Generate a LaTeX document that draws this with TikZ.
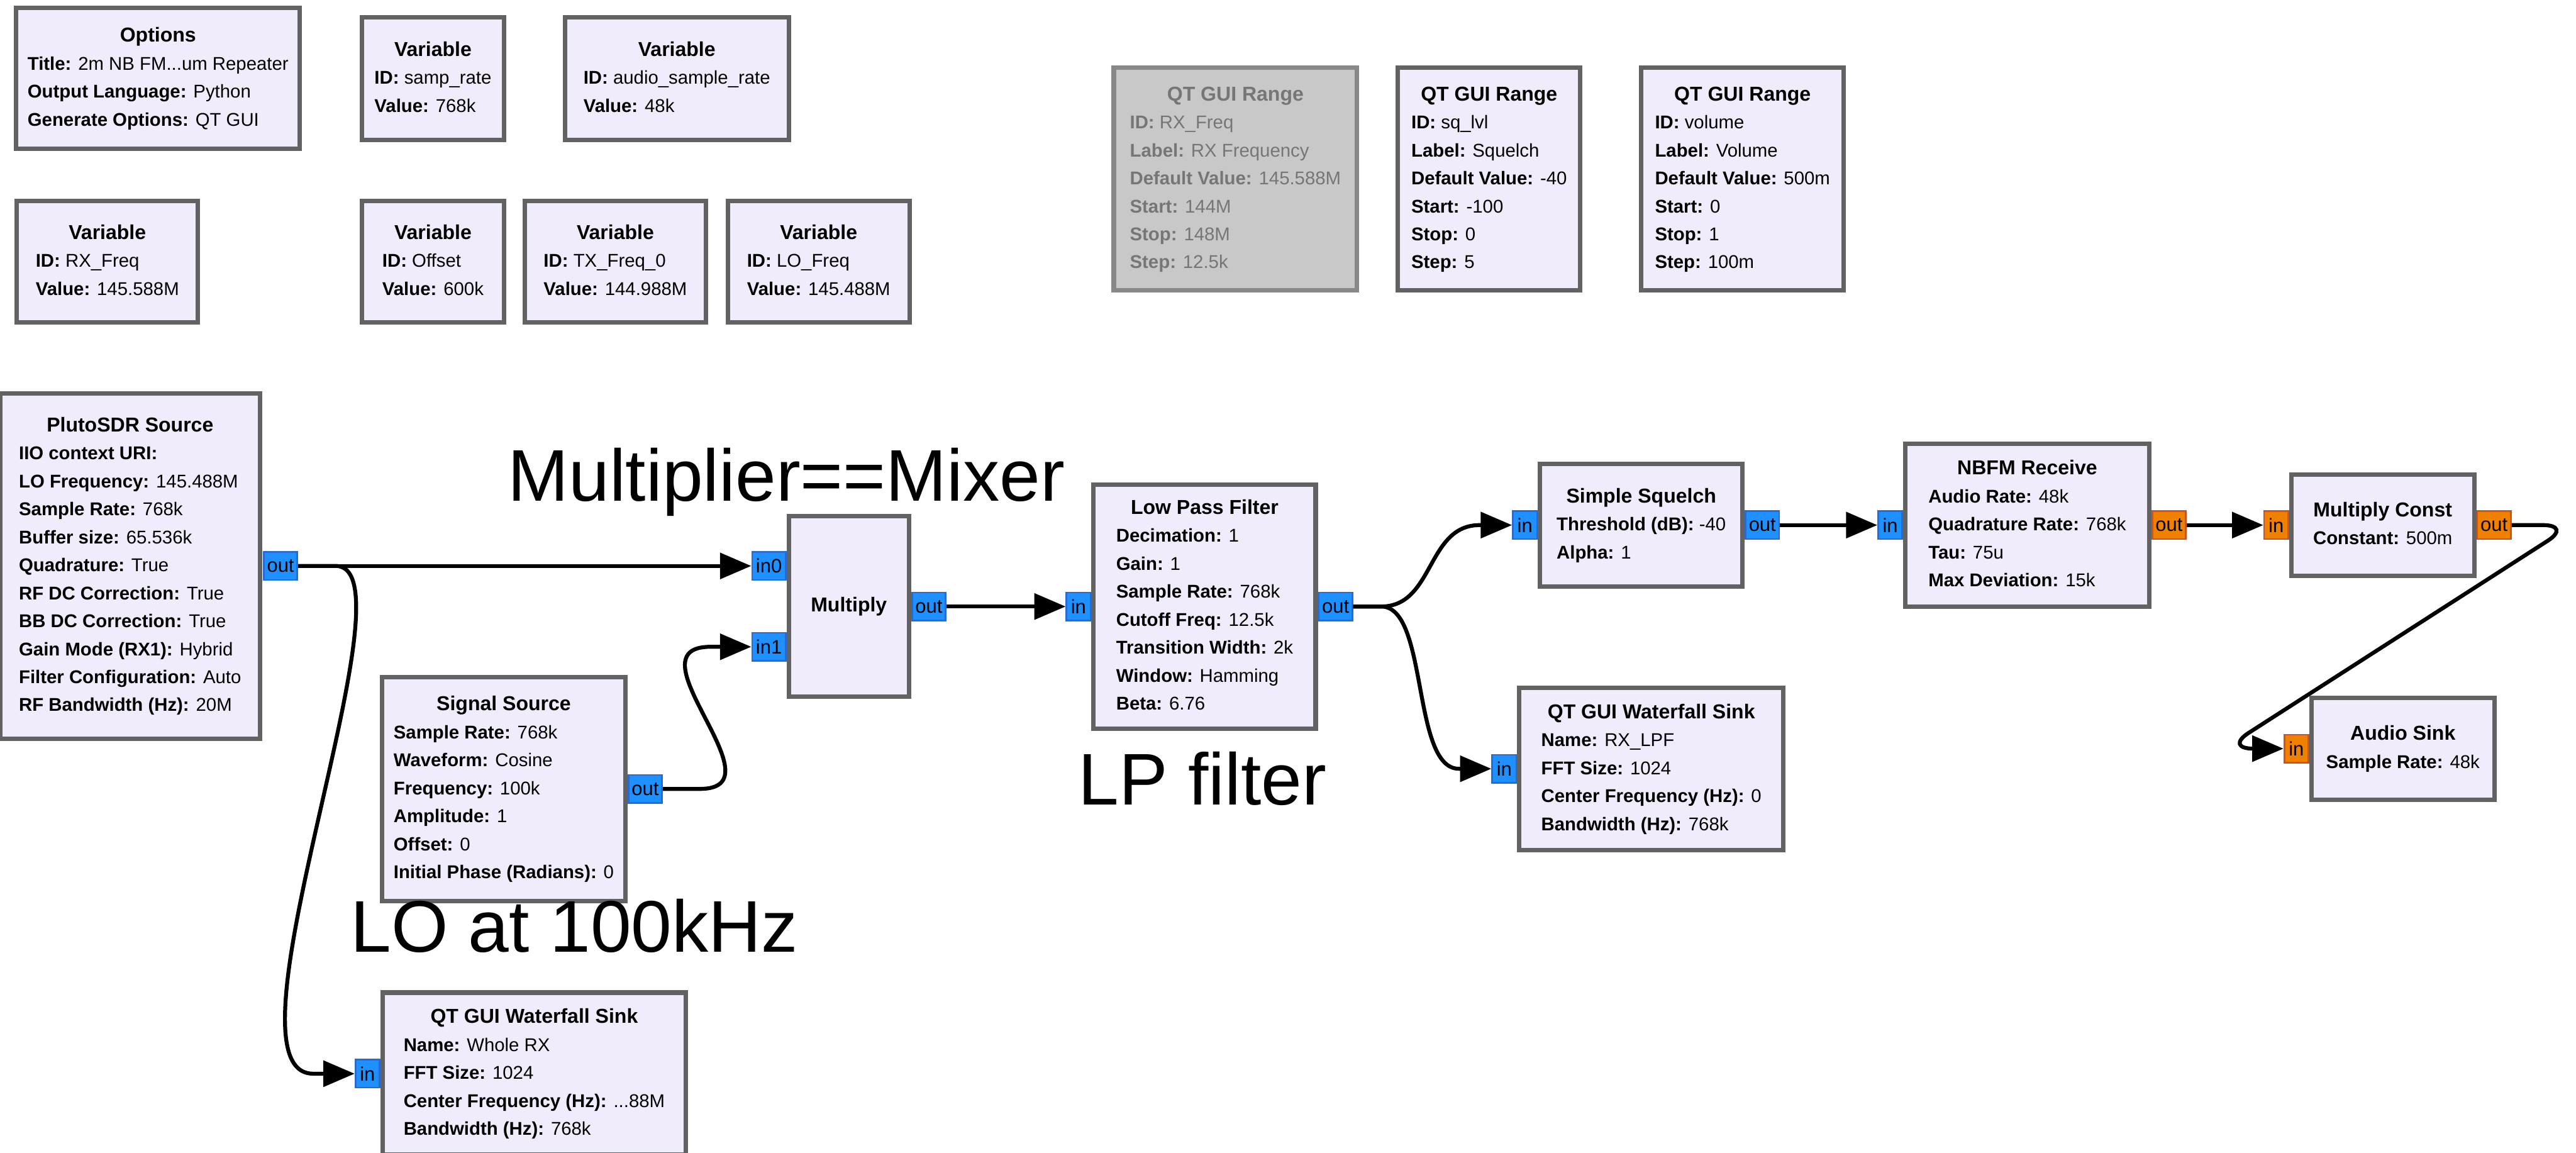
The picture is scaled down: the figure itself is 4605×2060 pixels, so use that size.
\documentclass[tikz,border=0pt]{standalone}
\usepackage{fontspec}
\setmainfont{Liberation Sans}
\usetikzlibrary{arrows.meta,calc}
\definecolor{blkfill}{RGB}{241,236,252}
\definecolor{blkdraw}{RGB}{98,98,98}
\definecolor{disfill}{RGB}{200,200,200}
\definecolor{disdraw}{RGB}{136,136,136}
\definecolor{distext}{RGB}{118,118,118}
\definecolor{cportfill}{RGB}{30,144,255}
\definecolor{cportdraw}{RGB}{38,108,210}
\definecolor{fportfill}{RGB}{240,128,0}
\definecolor{fportdraw}{RGB}{200,85,35}
\newcommand\ttl[1]{\multicolumn{1}{@{}c@{}}{\fontsize{9}{12.5}\selectfont\bfseries #1}}
\newcommand\lb[1]{\textbf{#1}}
\tikzset{
  blkbox/.style={draw=blkdraw, fill=blkfill, line width=2pt, rectangle, inner sep=0pt},
  blktxt/.style={inner sep=0pt, font=\fontsize{8.25}{12.5}\selectfont, text=black},
  disbox/.style={draw=disdraw, fill=disfill},
  distxt/.style={text=distext},
  port/.style={rectangle, inner sep=0pt, line width=0.75pt, minimum height=12.5pt, font=\fontsize{8.7}{10}\selectfont},
  cport/.style={port, draw=cportdraw, fill=cportfill},
  fport/.style={port, draw=fportdraw, fill=fportfill},
  wout/.style={minimum width=15pt},
  win/.style={minimum width=10.75pt},
  conn/.style={line width=1.75pt, draw=black},
  arr/.style={conn, -{Triangle[length=14pt,width=11.5pt]}},
  note/.style={font=\fontsize{32.7}{38}\selectfont, inner sep=0pt, anchor=base west}
}
% name x1 y1 x2 y2 boxstyle textstyle content
\newcommand\blk[8]{%
  \node[blkbox,#6,minimum width={(#4-#2-8)*0.25pt},minimum height={(#5-#3-8)*0.25pt}] (#1) at ({(#2+#4)/2},{(#3+#5)/2}) {};
  \node[blktxt,#7] (#1-t) at (#1.center) {\begin{tabular}{@{}l@{}}#8\end{tabular}};
}
\begin{document}
\begin{tikzpicture}[x=0.25pt,y=-0.25pt]
\useasboundingbox (0,0) rectangle (4605,2060);
\fill[white] (0,0) rectangle (4605,2060);
\clip (0,0) rectangle (4605,2060);

% variables / options
\blk{opt}{25}{10}{540}{270}{}{}{\ttl{Options}\\ \lb{Title:} 2m NB FM...um Repeater\\ \lb{Output Language:} Python\\ \lb{Generate Options:} QT GUI}
\blk{v1}{643}{27}{905}{254}{}{}{\ttl{Variable}\\ \lb{ID:} samp\_rate\\ \lb{Value:} 768k}
\blk{v2}{1006}{27}{1414}{254}{}{}{\ttl{Variable}\\ \lb{ID:} audio\_sample\_rate\\ \lb{Value:} 48k}
\blk{v3}{26}{355}{358}{580}{}{}{\ttl{Variable}\\ \lb{ID:} RX\_Freq\\ \lb{Value:} 145.588M}
\blk{v4}{643}{355}{905}{580}{}{}{\ttl{Variable}\\ \lb{ID:} Offset\\ \lb{Value:} 600k}
\blk{v5}{934}{355}{1266}{580}{}{}{\ttl{Variable}\\ \lb{ID:} TX\_Freq\_0\\ \lb{Value:} 144.988M}
\blk{v6}{1297}{355}{1630}{580}{}{}{\ttl{Variable}\\ \lb{ID:} LO\_Freq\\ \lb{Value:} 145.488M}

% QT GUI ranges
\blk{r1}{1987}{117}{2430}{523}{disbox}{distxt}{\ttl{QT GUI Range}\\ \lb{ID:} RX\_Freq\\ \lb{Label:} RX Frequency\\ \lb{Default Value:} 145.588M\\ \lb{Start:} 144M\\ \lb{Stop:} 148M\\ \lb{Step:} 12.5k}
\blk{r2}{2495}{117}{2829}{523}{}{}{\ttl{QT GUI Range}\\ \lb{ID:} sq\_lvl\\ \lb{Label:} Squelch\\ \lb{Default Value:} -40\\ \lb{Start:} -100\\ \lb{Stop:} 0\\ \lb{Step:} 5}
\blk{r3}{2930}{117}{3300}{523}{}{}{\ttl{QT GUI Range}\\ \lb{ID:} volume\\ \lb{Label:} Volume\\ \lb{Default Value:} 500m\\ \lb{Start:} 0\\ \lb{Stop:} 1\\ \lb{Step:} 100m}

% signal chain blocks
\blk{pluto}{-4}{699}{469}{1324}{}{}{\ttl{PlutoSDR Source}\\ \lb{IIO context URI:}\\ \lb{LO Frequency:} 145.488M\\ \lb{Sample Rate:} 768k\\ \lb{Buffer size:} 65.536k\\ \lb{Quadrature:} True\\ \lb{RF DC Correction:} True\\ \lb{BB DC Correction:} True\\ \lb{Gain Mode (RX1):} Hybrid\\ \lb{Filter Configuration:} Auto\\ \lb{RF Bandwidth (Hz):} 20M}
\blk{mul}{1406}{918}{1629}{1249}{}{}{\ttl{Multiply}}
\blk{sig}{679}{1206}{1122}{1614}{}{}{\ttl{Signal Source}\\ \lb{Sample Rate:} 768k\\ \lb{Waveform:} Cosine\\ \lb{Frequency:} 100k\\ \lb{Amplitude:} 1\\ \lb{Offset:} 0\\ \lb{Initial Phase (Radians):} 0}
\blk{wf1}{680}{1770}{1230}{2068}{}{}{\ttl{QT GUI Waterfall Sink}\\ \lb{Name:} Whole RX\\ \lb{FFT Size:} 1024\\ \lb{Center Frequency (Hz):} ...88M\\ \lb{Bandwidth (Hz):} 768k}
\blk{lpf}{1951}{862}{2356}{1306}{}{}{\ttl{Low Pass Filter}\\ \lb{Decimation:} 1\\ \lb{Gain:} 1\\ \lb{Sample Rate:} 768k\\ \lb{Cutoff Freq:} 12.5k\\ \lb{Transition Width:} 2k\\ \lb{Window:} Hamming\\ \lb{Beta:} 6.76}
\blk{sq}{2749}{825}{3119}{1052}{}{}{\ttl{Simple Squelch}\\ \lb{Threshold (dB):} -40\\ \lb{Alpha:} 1}
\blk{wf2}{2712}{1225}{3192}{1523}{}{}{\ttl{QT GUI Waterfall Sink}\\ \lb{Name:} RX\_LPF\\ \lb{FFT Size:} 1024\\ \lb{Center Frequency (Hz):} 0\\ \lb{Bandwidth (Hz):} 768k}
\blk{nb}{3402}{789}{3846}{1088}{}{}{\ttl{NBFM Receive}\\ \lb{Audio Rate:} 48k\\ \lb{Quadrature Rate:} 768k\\ \lb{Tau:} 75u\\ \lb{Max Deviation:} 15k}
\blk{mc}{4092}{844}{4427}{1033}{}{}{\ttl{Multiply Const}\\ \lb{Constant:} 500m}
\blk{as}{4128}{1243}{4463}{1433}{}{}{\ttl{Audio Sink}\\ \lb{Sample Rate:} 48k}

% ports
\node[cport,wout] (pl-out) at (501.5,1011.5) {out};
\node[cport,wout] (mul-in0) at (1374.5,1011.5) {in0};
\node[cport,wout] (mul-in1) at (1374.5,1156) {in1};
\node[cport,wout] (mul-out) at (1660.5,1084) {out};
\node[cport,wout] (sig-out) at (1153.5,1410) {out};
\node[cport,win] (wf1-in) at (657,1919) {in};
\node[cport,win] (lpf-in) at (1928,1084) {in};
\node[cport,wout] (lpf-out) at (2387.5,1084) {out};
\node[cport,win] (sq-in) at (2726,938.5) {in};
\node[cport,wout] (sq-out) at (3150.5,938.5) {out};
\node[cport,win] (wf2-in) at (2689,1374) {in};
\node[cport,win] (nb-in) at (3379,938.5) {in};
\node[fport,wout] (nb-out) at (3877.5,938.5) {out};
\node[fport,win] (mc-in) at (4069,938.5) {in};
\node[fport,wout] (mc-out) at (4458.5,938.5) {out};
\node[fport,win] (as-in) at (4105,1338) {in};

% connections
\draw[arr] (pl-out.east) -- (mul-in0.west);
\draw[arr] (pl-out.east) -- ++(67,0) .. controls +(150,0) and +(-180,0) .. ($(wf1-in.west)+(-74,0)$) -- (wf1-in.west);
\draw[arr] (sig-out.east) -- ++(66,0) .. controls +(150,0) and +(-150,0) .. ($(mul-in1.west)+(-73,0)$) -- (mul-in1.west);
\draw[arr] (mul-out.east) -- (lpf-in.west);
\draw[arr] (lpf-out.east) -- ++(50,0) .. controls +(95,0) and +(-95,0) .. ($(sq-in.west)+(-58,0)$) -- (sq-in.west);
\draw[arr] (lpf-out.east) -- ++(50,0) .. controls +(85,0) and +(-85,0) .. ($(wf2-in.west)+(-58,0)$) -- (wf2-in.west);
\draw[arr] (sq-out.east) -- (nb-in.west);
\draw[arr] (nb-out.east) -- (mc-in.west);
\draw[arr, rounded corners=13pt] (mc-out.east) -- (mc-out.east -| 4598,0) -- (as-in.west -| 3976,0) -- (as-in.west);

% annotations
\node[note] (n1) at (907,895) {Multiplier==Mixer};
\node[note] (n2) at (626,1702) {LO at 100kHz};
\node[note] (n3) at (1927,1438) {LP filter};
\end{tikzpicture}
\end{document}
